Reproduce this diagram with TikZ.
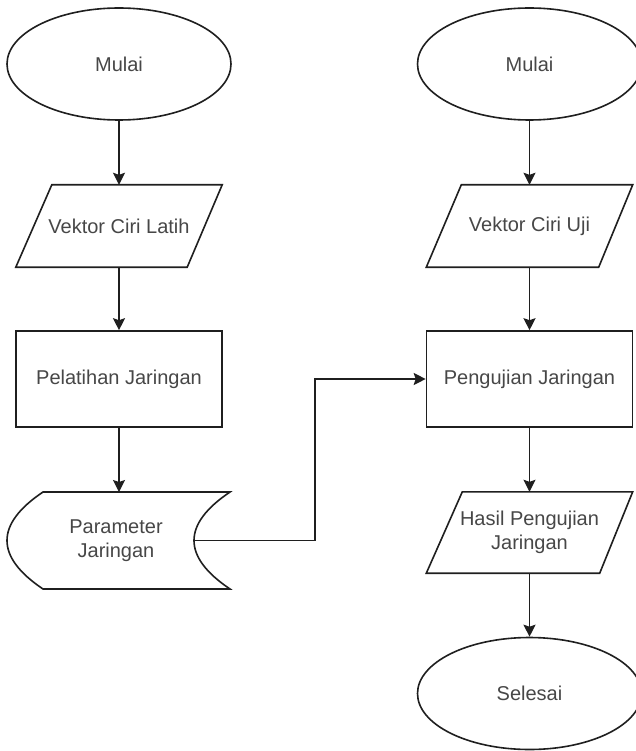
\documentclass[tikz,border=0pt]{standalone}
\usepackage{fontspec}
\setmainfont{Liberation Sans}
\usetikzlibrary{arrows.meta,calc,shapes.geometric}
\begin{document}
\begin{tikzpicture}[x=1pt,y=-1pt,
  line/.style={draw=black!88, line width=1.6pt},
  arr/.style={line, -{Stealth[length=12pt,width=12pt,inset=2pt]}},
  txt/.style={font=\fontsize{20}{24}\selectfont, text=black!72, align=center, inner sep=0pt},
  term/.style={ellipse, line, txt, minimum width=224pt, minimum height=112pt},
  proc/.style={rectangle, line, txt, minimum width=206pt, minimum height=96pt},
  iobox/.style={rectangle, txt, minimum width=206pt, minimum height=82pt},
  para/.style={line}
]
\useasboundingbox (0,0) rectangle (636,751);
\clip (0,0) rectangle (636,751);
\fill[white] (0,0) rectangle (636,751);

% left column
\node[term] (m1) at (119,64) {Mulai};
\node[iobox] (v1) at (119,226) {Vektor Ciri Latih};
\draw[para] ($(v1.north west)+(36,0)$) -- (v1.north east) -- ($(v1.south east)+(-35,0)$) -- (v1.south west) -- cycle;
\node[proc] (p1) at (119,379) {Pelatihan Jaringan};
\node[txt] (par) at (116,540.5) {Parameter\\Jaringan};
\coordinate (parN) at (119,492);
\coordinate (parE) at (194,540.5);
\coordinate (bend) at (315,540.5);
\draw[line] (43,492) -- (230,492) .. controls (182,524.3) and (182,556.7) .. (230,589)
  -- (43,589) .. controls (-5,556.7) and (-5,524.3) .. cycle;

% right column
\node[term] (m2) at (529.5,64) {Mulai};
\node[iobox] (v2) at (529.5,226) {Vektor Ciri Uji};
\draw[para] ($(v2.north west)+(35,0)$) -- (v2.north east) -- ($(v2.south east)+(-34,0)$) -- (v2.south west) -- cycle;
\node[proc] (p2) at (529.5,379) {Pengujian Jaringan};
\node[iobox, minimum height=81pt] (h2) at (529.5,532.5) {Hasil Pengujian\\Jaringan};
\draw[para] ($(h2.north west)+(36,0)$) -- (h2.north east) -- ($(h2.south east)+(-33,0)$) -- (h2.south west) -- cycle;
\node[term] (s2) at (529.5,693.5) {Selesai};

% connectors
\draw[arr] (m1) -- (v1);
\draw[arr] (v1) -- (p1);
\draw[arr] (p1) -- (parN);
\draw[arr] (parE) -- (bend) |- (p2.west);
\draw[arr] (m2) -- (v2);
\draw[arr] (v2) -- (p2);
\draw[arr] (p2) -- (h2);
\draw[arr] (h2) -- (s2);
\end{tikzpicture}
\end{document}
